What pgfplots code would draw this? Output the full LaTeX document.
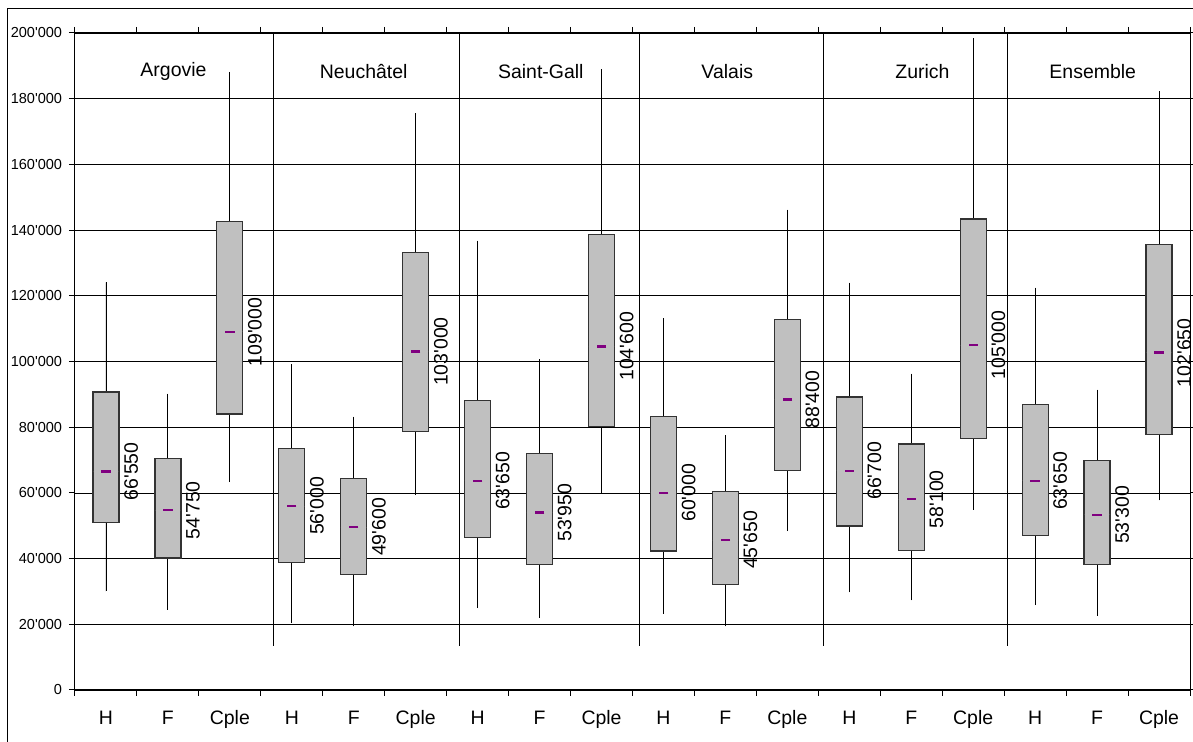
\documentclass[border=0pt]{standalone}
\usepackage{fontspec}
\setmainfont{Liberation Sans}
\usepackage{pgfplots}
\usepackage{pgfplotstable}
\pgfplotsset{compat=1.18}
\usepgfplotslibrary{statistics}

\definecolor{boxgray}{HTML}{C0C0C0}
\definecolor{medpurple}{HTML}{800080}

% values in thousands; x: position, lw/uw: whiskers, q1/q3: box, med: median, lab: median as printed
\pgfplotstableread{
x  lw    q1    med     q3     uw     lab
0  30.0  50.9  66.55   90.7   124.1  66550
1  24.4  40.2  54.75   70.4   90.2   54750
2  63.3  84.0  109.0   142.6  188.2  109000
3  20.4  38.9  56.0    73.5   99.1   56000
4  19.4  35.2  49.6    64.5   83.2   49600
5  59.3  78.6  103.0   133.2  175.5  103000
6  24.9  46.5  63.65   88.1   136.8  63650
7  22.0  38.3  53.95   71.9   100.7  53950
8  59.8  80.1  104.6   138.6  189.0  104600
9  23.2  42.3  60.0    83.2   113.2  60000
10 19.4  32.1  45.65   60.4   77.6   45650
11 48.4  66.8  88.4    112.8  146.2  88400
12 29.7  49.9  66.7    89.2   124.0  66700
13 27.3  42.5  58.1    74.9   96.3   58100
14 54.8  76.5  105.0   143.4  198.4  105000
15 25.8  47.0  63.65   86.9   122.5  63650
16 22.6  38.3  53.3    69.9   91.4   53300
17 57.7  77.8  102.65  135.6  182.2  102650
}\data

\begin{document}
\begin{tikzpicture}
\begin{axis}[
  scale only axis,
  width=836.25pt, height=492.75pt,
  xmin=-0.5, xmax=17.5, ymin=0, ymax=200,
  axis line style={line width=0.75pt},
  ytick={0,20,...,200},
  yticklabels={0,20\textquotesingle000,40\textquotesingle000,60\textquotesingle000,80\textquotesingle000,100\textquotesingle000,
    120\textquotesingle000,140\textquotesingle000,160\textquotesingle000,180\textquotesingle000,200\textquotesingle000},
  ymajorgrids,
  grid style={black, line width=0.55pt},
  xtick={-0.5,0.5,...,17.5},
  x tick label as interval,
  xticklabels={H,F,Cple,H,F,Cple,H,F,Cple,H,F,Cple,H,F,Cple,H,F,Cple},
  tick align=outside,
  major tick length=4.5pt,
  tick style={black, line width=0.75pt},
  yticklabel style={font=\fontsize{10.9}{12}\selectfont, inner sep=0pt, xshift=-5pt},
  xticklabel style={font=\fontsize{14.6}{16}\selectfont, inner sep=0pt, text height=10.4pt, yshift=-11pt},
  /pgf/number format/.cd, fixed, precision=0, 1000 sep={\textquotesingle}, assume math mode=true,
  /pgfplots/.cd,
  boxplot/draw direction=y,
  boxplot/box extend=0.42,
  boxplot/whisker extend=0,
  boxplot/every box/.style={fill=boxgray, draw=black!80, line width=0.9pt},
  boxplot/every whisker/.style={black, line width=0.7pt},
  boxplot/every median/.style={draw=none},
]
\pgfplotsinvokeforeach{0,...,17}{
  \pgfplotstablegetelem{#1}{lw}\of\data \let\lw\pgfplotsretval
  \pgfplotstablegetelem{#1}{q1}\of\data \let\qa\pgfplotsretval
  \pgfplotstablegetelem{#1}{med}\of\data \let\md\pgfplotsretval
  \pgfplotstablegetelem{#1}{q3}\of\data \let\qb\pgfplotsretval
  \pgfplotstablegetelem{#1}{uw}\of\data \let\uw\pgfplotsretval
  \edef\tmp{\noexpand\addplot[draw=black, fill=boxgray, boxplot prepared={draw position=#1,
    lower whisker=\lw, lower quartile=\qa, median=\md, upper quartile=\qb, upper whisker=\uw}]
    coordinates {};}
  \tmp
}

% medians
\addplot[only marks, mark=-, mark size=3.5pt, medpurple, mark options={line width=2pt}]
  table[x=x, y=med]{\data};

% median values as rotated labels
\addplot[draw=none, mark=none, point meta=explicit, nodes near coords,
  every node near coord/.append style={anchor=north, rotate=90, inner sep=0pt,
    font=\fontsize{14.6}{16}\selectfont, text=black}]
  table[x expr=\thisrow{x}+0.29, y=med, meta=lab]{\data};

% group separators
\pgfplotsinvokeforeach{2.71,5.70,8.62,11.59,14.56}{
  \draw[black, line width=0.8pt] (axis cs:#1,13.5) -- (axis cs:#1,200);
}

% group names
\node[font=\fontsize{14.6}{16}\selectfont] at (axis cs:1.09,188.3) {Argovie};
\node[font=\fontsize{14.6}{16}\selectfont] at (axis cs:4.16,188.3) {Neuchâtel};
\node[font=\fontsize{14.6}{16}\selectfont] at (axis cs:7.02,188.3) {Saint-Gall};
\node[font=\fontsize{14.6}{16}\selectfont] at (axis cs:10.03,188.3) {Valais};
\node[font=\fontsize{14.6}{16}\selectfont] at (axis cs:13.18,188.3) {Zurich};
\node[font=\fontsize{14.6}{16}\selectfont] at (axis cs:15.93,188.3) {Ensemble};

\coordinate (pasw) at (rel axis cs:0,0);
\coordinate (pane) at (rel axis cs:1,1);
\end{axis}

% outer chart frame (left and top edges)
\draw[black, line width=0.75pt] ([xshift=-50.25pt,yshift=-60pt]pasw) |- ([xshift=20pt,yshift=18pt]pane);

\pgfresetboundingbox
\useasboundingbox ([xshift=-56.25pt,yshift=-39pt]pasw) rectangle ([xshift=2.25pt,yshift=24.75pt]pane);
\end{tikzpicture}
\end{document}
